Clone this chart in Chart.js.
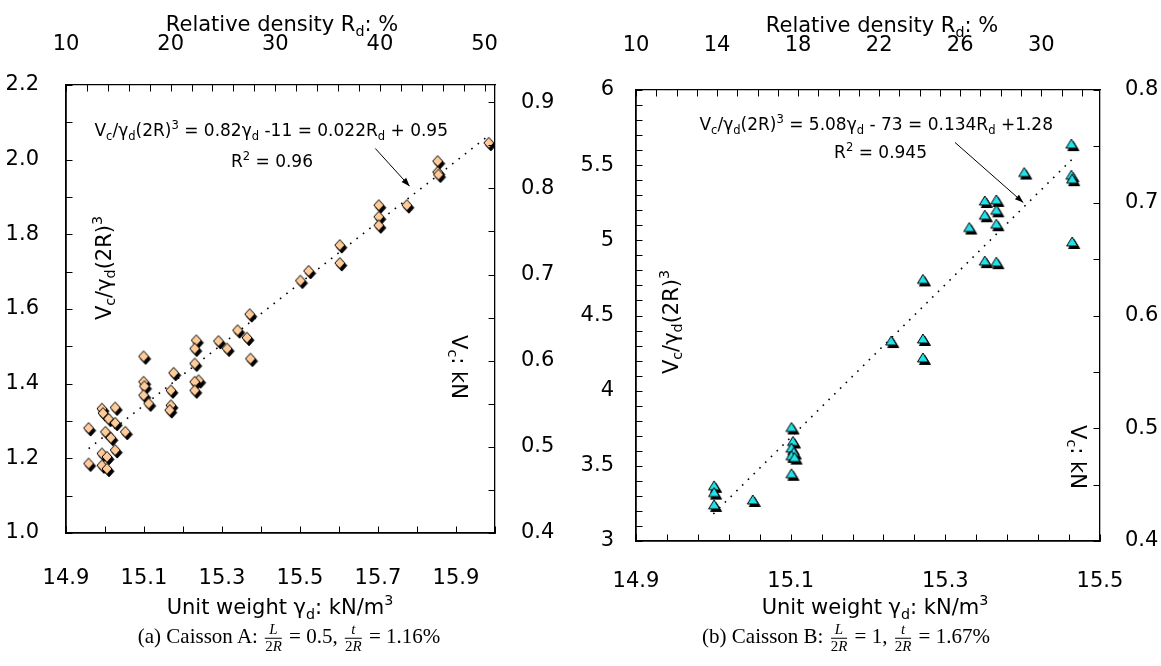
<!DOCTYPE html>
<html>
<head>
<meta charset="utf-8">
<script src="https://cdn.jsdelivr.net/npm/chart.js@4.4.0/dist/chart.umd.min.js"></script>
<style>
body { margin:0; background:#fff; width:1161px; height:666px; position:relative; overflow:hidden; }
canvas { position:absolute; top:0; }
#cA { left:0; }
#cB { left:580px; }
.cap { position:absolute; font-family:"Liberation Serif","DejaVu Serif",serif; font-size:21px; white-space:nowrap; transform:translate(-50%,-50%); }
.fr { display:inline-block; vertical-align:middle; text-align:center; font-size:15px; line-height:1.05; margin:0 2px; }
.fr span { display:block; }
.fr .n { border-bottom:1px solid #000; padding:0 1px; }
</style>
</head>
<body>
<canvas id="cA" width="580" height="666"></canvas>
<canvas id="cB" width="581" height="666"></canvas>
<div class="cap" style="left:289px; top:638px">(a) Caisson A: <span class="fr"><span class="n"><i>L</i></span><span>2<i>R</i></span></span> = 0.5, <span class="fr"><span class="n"><i>t</i></span><span>2<i>R</i></span></span> = 1.16%</div>
<div class="cap" style="left:846px; top:638px">(b) Caisson B: <span class="fr"><span class="n"><i>L</i></span><span>2<i>R</i></span></span> = 1, <span class="fr"><span class="n"><i>t</i></span><span>2<i>R</i></span></span> = 1.67%</div>
<script>
// Caisson A: unit weight (kN/m3) and Vc/gd(2R)^3
const gammaA = [14.958, 14.958, 14.992, 14.995, 15.009, 15.026, 15.001, 15.015, 15.026, 15.052,
  14.992, 15.005, 15.026, 14.992, 15.005, 15.099, 15.099, 15.101, 15.099, 15.112,
  15.176, 15.169, 15.169, 15.166, 15.234, 15.230, 15.230, 15.240, 15.230, 15.230,
  15.291, 15.313, 15.340, 15.364, 15.371, 15.373, 15.602, 15.602, 15.501, 15.522,
  15.702, 15.702, 15.702, 15.774, 15.853, 15.853, 15.855, 15.984];
const ratioA = [1.281, 1.186, 1.333, 1.321, 1.306, 1.336, 1.271, 1.255, 1.295, 1.271,
  1.213, 1.204, 1.222, 1.181, 1.172, 1.473, 1.405, 1.393, 1.369, 1.347,
  1.429, 1.382, 1.342, 1.329, 1.516, 1.494, 1.454, 1.409, 1.405, 1.382,
  1.514, 1.494, 1.543, 1.523, 1.586, 1.467, 1.771, 1.723, 1.676, 1.702,
  1.878, 1.847, 1.824, 1.878, 1.996, 1.967, 1.960, 2.045];
const trendXA = [14.958, 15.984];
const trendYA = [1.226, 2.065];

// Caisson B
const gammaB = [15.001, 15.001, 15.001, 15.051, 15.101, 15.103, 15.101, 15.104, 15.101, 15.105,
  15.101, 15.23, 15.271, 15.271, 15.271, 15.331, 15.351, 15.351, 15.366, 15.366,
  15.366, 15.351, 15.366, 15.402, 15.463, 15.463, 15.464, 15.464];
const ratioB = [3.367, 3.322, 3.24, 3.273, 3.755, 3.662, 3.618, 3.589, 3.567, 3.555,
  3.447, 4.33, 4.74, 4.344, 4.218, 5.085, 5.262, 5.167, 5.269, 5.2,
  5.107, 4.862, 4.855, 5.451, 5.64, 5.433, 5.407, 4.989];
const trendXB = [15.0, 15.466];
const trendYB = [3.18, 5.55];

// labelled ticks
const xLabelsA = [14.9, 15.1, 15.3, 15.5, 15.7, 15.9];
const yLabelsA = [1.0, 1.2, 1.4, 1.6, 1.8, 2.0, 2.2];
const rdLabelsA = [10, 20, 30, 40, 50];
const vcLabelsA = [0.4, 0.5, 0.6, 0.7, 0.8, 0.9];
const xLabelsB = [14.9, 15.1, 15.3, 15.5];
const yLabelsB = [3, 3.5, 4, 4.5, 5, 5.5, 6];
const rdLabelsB = [10, 14, 18, 22, 26, 30];
const vcLabelsB = [0.4, 0.5, 0.6, 0.7, 0.8];

const FONT = '"DejaVu Sans", "Liberation Sans", Arial, sans-serif';

function pick(list, digits) {
  return v => list.some(l => Math.abs(l - v) < 1e-6) ? (digits == null ? String(+v.toFixed(2)) : v.toFixed(digits)) : '';
}

function markerImage(kind) {
  const c = document.createElement('canvas');
  c.width = 24; c.height = 24;
  const g = c.getContext('2d');
  const path = (dx, dy) => {
    g.beginPath();
    if (kind === 'diamond') {
      g.moveTo(12 + dx, 6.5 + dy); g.lineTo(17 + dx, 12 + dy); g.lineTo(12 + dx, 17.5 + dy); g.lineTo(7 + dx, 12 + dy);
    } else {
      g.moveTo(12 + dx, 7 + dy); g.lineTo(17.5 + dx, 16 + dy); g.lineTo(6.5 + dx, 16 + dy);
    }
    g.closePath();
  };
  g.lineWidth = 1; g.strokeStyle = '#000';
  path(2, 2.5); g.fillStyle = '#000'; g.fill(); g.stroke();
  path(0, 0); g.fillStyle = kind === 'diamond' ? '#FFCC99' : '#22E2EA'; g.fill(); g.stroke();
  return c;
}

function drawRich(ctx, parts, x, y, size, align) {
  const f = m => (m ? size * 0.68 : size) + 'px ' + FONT;
  let w = 0;
  parts.forEach(p => { ctx.font = f(p[1]); w += ctx.measureText(p[0]).width; });
  let cx = align === 'center' ? x - w / 2 : align === 'right' ? x - w : x;
  ctx.textAlign = 'left';
  ctx.textBaseline = 'alphabetic';
  ctx.fillStyle = '#000';
  parts.forEach(p => {
    ctx.font = f(p[1]);
    const dy = p[1] === 'b' ? size * 0.22 : p[1] === 'p' ? -size * 0.42 : 0;
    ctx.fillText(p[0], cx, y + dy);
    cx += ctx.measureText(p[0]).width;
  });
}

const decor = {
  id: 'decor',
  afterDraw(chart, args, o) {
    const ctx = chart.ctx;
    const a = chart.chartArea;
    ctx.save();
    ctx.strokeStyle = '#000';
    ctx.lineWidth = 1;
    const L = o.tick;
    [['x', 'b'], ['x2', 't'], ['y', 'l'], ['y2', 'r']].forEach(([id, side]) => {
      const s = chart.scales[id];
      s.ticks.forEach(t => {
        const p = Math.round(s.getPixelForValue(t.value)) + 0.5;
        ctx.beginPath();
        if (side === 'b') { ctx.moveTo(p, a.bottom); ctx.lineTo(p, a.bottom - L); }
        if (side === 't') { ctx.moveTo(p, a.top); ctx.lineTo(p, a.top + L); }
        if (side === 'l') { ctx.moveTo(a.left, p); ctx.lineTo(a.left + L, p); }
        if (side === 'r') { ctx.moveTo(a.right, p); ctx.lineTo(a.right - L, p); }
        ctx.stroke();
      });
    });
    // arrow
    const xs = chart.scales.x, ys = chart.scales.y;
    const x1 = xs.getPixelForValue(o.arrow[0]), y1 = ys.getPixelForValue(o.arrow[1]);
    const x2 = xs.getPixelForValue(o.arrow[2]), y2 = ys.getPixelForValue(o.arrow[3]);
    ctx.beginPath(); ctx.moveTo(x1, y1); ctx.lineTo(x2, y2); ctx.stroke();
    const ang = Math.atan2(y2 - y1, x2 - x1);
    ctx.beginPath();
    ctx.moveTo(x2, y2);
    ctx.lineTo(x2 - 9 * Math.cos(ang - 0.35), y2 - 9 * Math.sin(ang - 0.35));
    ctx.lineTo(x2 - 9 * Math.cos(ang + 0.35), y2 - 9 * Math.sin(ang + 0.35));
    ctx.closePath(); ctx.fillStyle = '#000'; ctx.fill();
    // texts
    o.texts.forEach(t => {
      ctx.save();
      ctx.translate(t.x, t.y);
      if (t.rot) ctx.rotate(t.rot);
      drawRich(ctx, t.parts, 0, t.rot ? t.size * 0.36 : 0, t.size, t.align || 'center');
      ctx.restore();
    });
    ctx.restore();
  }
};

function axisFont() { return { family: FONT, size: 21 }; }

function makeChart(id, cfg) {
  const pts = cfg.gx.map((g, i) => ({ x: g, y: cfg.gy[i] }));
  const trend = cfg.tx.map((g, i) => ({ x: g, y: cfg.ty[i] }));
  const border = w => ({ display: true, color: '#000', width: w });
  return new Chart(id, {
    type: 'scatter',
    data: {
      datasets: [
        { data: pts, pointStyle: markerImage(cfg.marker), pointRadius: 6, pointHoverRadius: 6 },
        { data: trend, showLine: true, borderColor: '#000', borderWidth: 1.6, borderDash: [1.6, 6.5],
          pointRadius: 0, fill: false }
      ]
    },
    options: {
      responsive: false,
      animation: false,
      devicePixelRatio: 1,
      layout: { padding: 0, autoPadding: false },
      events: [],
      plugins: { legend: { display: false }, tooltip: { enabled: false },
        decor: { tick: 6.5, arrow: cfg.arrow, texts: cfg.texts } },
      scales: {
        x: { type: 'linear', position: 'bottom', min: cfg.xr[0], max: cfg.xr[1],
          grid: { display: false }, border: border(1.8),
          ticks: { stepSize: cfg.xr[2], autoSkip: false, maxRotation: 0, includeBounds: false,
            padding: cfg.pad.b, color: '#000', font: axisFont(), callback: pick(cfg.xl, 1) },
          afterFit: s => { s.height = cfg.box.b; } },
        x2: { type: 'linear', position: 'top', min: cfg.rr[0], max: cfg.rr[1],
          grid: { display: false }, border: border(1.3),
          ticks: { stepSize: cfg.rr[2], autoSkip: false, maxRotation: 0, includeBounds: false,
            padding: cfg.pad.t, color: '#000', font: axisFont(), callback: pick(cfg.rl) },
          afterFit: s => { s.height = cfg.box.t; } },
        y: { type: 'linear', position: 'left', min: cfg.yr[0], max: cfg.yr[1],
          grid: { display: false }, border: border(1.8),
          ticks: { stepSize: cfg.yr[2], autoSkip: false, includeBounds: false,
            padding: cfg.pad.l, color: '#000', font: axisFont(), callback: pick(cfg.yl, cfg.yd) },
          afterFit: s => { s.width = cfg.box.l; } },
        y2: { type: 'linear', position: 'right', min: cfg.vr[0], max: cfg.vr[1],
          grid: { display: false }, border: border(1.3),
          ticks: { stepSize: cfg.vr[2], autoSkip: false, includeBounds: false,
            padding: cfg.pad.r, color: '#000', font: axisFont(), callback: pick(cfg.vl, 1) },
          afterFit: s => { s.width = cfg.box.r; } }
      }
    },
    plugins: [decor]
  });
}

const yTitle = [['V'], ['c', 'b'], ['/γ'], ['d', 'b'], ['(2R)'], ['3', 'p']];
const vTitle = [['V'], ['c', 'b'], [': kN']];
const topTitle = [['Relative density R'], ['d', 'b'], [': %']];
const botTitle = [['Unit weight γ'], ['d', 'b'], [': kN/m'], ['3', 'p']];

makeChart('cA', {
  gx: gammaA, gy: ratioA, tx: trendXA, ty: trendYA, marker: 'diamond',
  xr: [14.9, 16.0, 0.1], xl: xLabelsA,
  rr: [10, 51, 2], rl: rdLabelsA,
  yr: [1.0, 2.2, 0.1], yl: yLabelsA, yd: 1,
  vr: [0.4, 0.92, 0.05], vl: vcLabelsA,
  box: { l: 66, r: 85, t: 85, b: 133 },
  pad: { l: 19, r: 18, t: 20, b: 25 },
  arrow: [15.693, 2.030, 15.781, 1.929],
  texts: [
    { parts: topTitle, x: 282, y: 31, size: 21 },
    { parts: botTitle, x: 280, y: 614, size: 21 },
    { parts: yTitle, x: 103, y: 268, size: 21, rot: -Math.PI / 2 },
    { parts: vTitle, x: 460, y: 367, size: 21, rot: Math.PI / 2 },
    { parts: [['V'], ['c', 'b'], ['/γ'], ['d', 'b'], ['(2R)'], ['3', 'p'], [' = 0.82γ'], ['d', 'b'],
      [' -11 = 0.022R'], ['d', 'b'], [' + 0.95']], x: 448, y: 136, size: 17, align: 'right' },
    { parts: [['R'], ['2', 'p'], [' = 0.96']], x: 313, y: 167, size: 17, align: 'right' }
  ]
});

makeChart('cB', {
  gx: gammaB, gy: ratioB, tx: trendXB, ty: trendYB, marker: 'triangle',
  xr: [14.9, 15.5, 0.04], xl: xLabelsB,
  rr: [10, 32.9, 1], rl: rdLabelsB,
  yr: [3, 6, 0.1], yl: yLabelsB, yd: null,
  vr: [0.4, 0.8, 0.05], vl: vcLabelsB,
  box: { l: 56, r: 61, t: 90, b: 125 },
  pad: { l: 14, r: 17, t: 24, b: 20 },
  arrow: [15.3125, 5.651, 15.4008, 5.251],
  texts: [
    { parts: topTitle, x: 302, y: 32, size: 21 },
    { parts: botTitle, x: 295, y: 614, size: 21 },
    { parts: yTitle, x: 90, y: 322, size: 21, rot: -Math.PI / 2 },
    { parts: vTitle, x: 499, y: 457, size: 21, rot: Math.PI / 2 },
    { parts: [['V'], ['c', 'b'], ['/γ'], ['d', 'b'], ['(2R)'], ['3', 'p'], [' = 5.08γ'], ['d', 'b'],
      [' - 73 = 0.134R'], ['d', 'b'], [' +1.28']], x: 473, y: 130, size: 17, align: 'right' },
    { parts: [['R'], ['2', 'p'], [' = 0.945']], x: 347, y: 158, size: 17, align: 'right' }
  ]
});
</script>
</body>
</html>
